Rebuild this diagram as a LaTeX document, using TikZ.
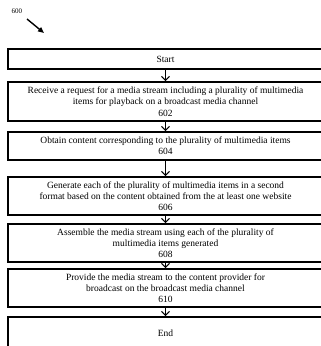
\documentclass[tikz,border=0pt]{standalone}
\usepackage{fontspec}
\setmainfont{Liberation Serif}
\usetikzlibrary{arrows.meta}
\begin{document}
\begin{tikzpicture}[x=1pt,y=-1pt,
  flowbox/.style={draw=black, line width=1.6pt, minimum width=315pt, inner sep=0pt,
    align=center, font=\fontsize{9.5}{11.2}\selectfont},
  flowarr/.style={line width=1.1pt, -{Straight Barb[length=4pt,width=8pt,line width=1.1pt]}},
  refarr/.style={line width=1.4pt, -{Triangle[length=6pt,width=5pt]}}]
\useasboundingbox (0,0) rectangle (321,346);
\clip (0,0) rectangle (321,346);
\node[font=\fontsize{7}{8}\selectfont, anchor=center] (lbl) at (17,11) {600};
\coordinate (refs) at (27,19);
\coordinate (refe) at (44,33);
\draw[refarr] (refs) -- (refe);
\node[flowbox, minimum height=20pt] (s) at (165.5,59) {Start};
\node[flowbox, minimum height=39pt] (b602) at (165.5,101.5) {Receive a request for a media stream including a plurality of multimedia\\ items for playback on a broadcast media channel\\ 602};
\node[flowbox, minimum height=28pt] (b604) at (165.5,146) {Obtain content corresponding to the plurality of multimedia items\\ 604};
\node[flowbox, minimum height=38pt] (b606) at (165.5,196) {Generate each of the plurality of multimedia items in a second\\ format based on the content obtained from the at least one website\\ 606};
\node[flowbox, minimum height=38pt] (b608) at (165.5,243) {Assemble the media stream using each of the plurality of\\ multimedia items generated\\ 608};
\node[flowbox, minimum height=38pt] (b610) at (165.5,288) {Provide the media stream to the content provider for\\ broadcast on the broadcast media channel\\ 610};
\node[flowbox, minimum height=33pt] (e) at (165.5,333.5) {End};
\draw[flowarr] (s.south) -- (b602.north);
\draw[flowarr] (b602.south) -- (b604.north);
\draw[flowarr] (b604.south) -- (b606.north);
\draw[flowarr] (b606.south) -- (b608.north);
\draw[flowarr] (b608.south) -- (b610.north);
\draw[flowarr] (b610.south) -- (e.north);
\end{tikzpicture}
\end{document}
